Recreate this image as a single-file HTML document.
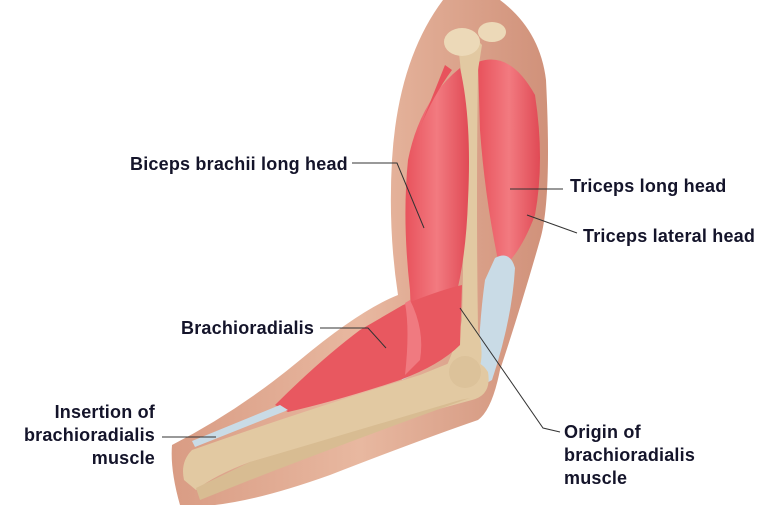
<!DOCTYPE html>
<html><head><meta charset="utf-8"><style>
html,body{margin:0;padding:0;background:#fff;}
svg{display:block;}
text{font-family:"Liberation Sans",Arial,sans-serif;font-weight:bold;font-size:18px;fill:#14142a;letter-spacing:0.2px;}
</style></head><body>
<svg width="768" height="532" viewBox="0 0 768 532" xmlns="http://www.w3.org/2000/svg">
<defs>
<linearGradient id="sk" x1="0" y1="0" x2="1" y2="0"><stop offset="0" stop-color="#d99c84"/><stop offset="0.5" stop-color="#e8b8a0"/><stop offset="1" stop-color="#d0917a"/></linearGradient>
<linearGradient id="mu" x1="0" y1="0" x2="1" y2="0"><stop offset="0" stop-color="#e8525c"/><stop offset="0.5" stop-color="#f27a80"/><stop offset="1" stop-color="#e04a55"/></linearGradient>
</defs>
<path d="M443,0 L500,0 Q540,30 546,80 Q552,200 540,240 Q520,310 500,370 Q492,410 478,420 Q420,440 330,475 Q260,500 215,505 L180,505 Q170,470 172,445 Q240,410 300,360 Q360,310 398,295 Q388,230 392,160 Q398,60 443,0 Z" fill="url(#sk)"/>
<path d="M478,62 Q510,50 535,95 Q545,160 535,215 Q520,255 500,270 Q485,200 480,130 Z" fill="url(#mu)"/>
<path d="M495,258 Q510,250 515,268 Q512,320 492,380 L478,388 Q478,330 485,280 Z" fill="#c9dbe6"/>
<path d="M458,45 Q470,30 482,45 L478,70 Q476,200 478,330 Q488,365 470,385 Q450,392 445,370 Q458,340 462,320 Q465,200 462,80 Z" fill="#e2c9a2"/>
<ellipse cx="462" cy="42" rx="18" ry="14" fill="#ecd9b8"/>
<ellipse cx="492" cy="32" rx="14" ry="10" fill="#ecd9b8"/>
<path d="M460,68 Q472,120 468,200 Q465,290 440,340 Q420,365 405,372 Q412,330 410,290 Q402,220 408,160 Q420,100 460,68 Z" fill="url(#mu)"/>
<path d="M445,65 L452,70 Q430,100 415,140 Z" fill="#e8525c"/>
<path d="M405,372 L420,340 L418,372 L402,380 Z" fill="#c9dbe6"/>
<path d="M403,305 Q440,290 462,285 L460,345 Q440,365 400,380 Q340,400 288,412 L275,405 Q320,360 360,330 Z" fill="#e85860"/>
<path d="M410,300 Q425,330 420,360 L405,375 Q410,330 405,303 Z" fill="#f07a80"/>
<path d="M452,362 Q478,355 488,372 Q492,395 472,400 Q380,425 250,462 Q215,475 196,490 L184,480 Q180,462 192,450 Q300,412 420,375 Z" fill="#e2c9a2"/>
<path d="M470,398 Q380,430 250,480 L200,500 L196,488 L250,462 L460,400 Z" fill="#d8bc92"/>
<circle cx="465" cy="372" r="16" fill="#dcc29a"/>
<path d="M288,410 L195,447 L192,441 L280,405 Z" fill="#c9dbe6"/>
<g stroke="#333" stroke-width="1" fill="none">
<polyline points="352,163 397,163 424,228"/>
<line x1="510" y1="189" x2="563" y2="189"/>
<line x1="527" y1="215" x2="577" y2="233"/>
<polyline points="320,328 368,328 386,348"/>
<line x1="162" y1="437" x2="216" y2="437"/>
<polyline points="460,308 543,428 560,432"/>
</g>
<text x="130" y="170">Biceps brachii long head</text>
<text x="570" y="192">Triceps long head</text>
<text x="583" y="242">Triceps lateral head</text>
<text x="181" y="334">Brachioradialis</text>
<text x="155" y="418" text-anchor="end">Insertion of</text>
<text x="155" y="441" text-anchor="end">brachioradialis</text>
<text x="155" y="464" text-anchor="end">muscle</text>
<text x="564" y="438">Origin of</text>
<text x="564" y="461">brachioradialis</text>
<text x="564" y="484">muscle</text>
</svg>
</body></html>
